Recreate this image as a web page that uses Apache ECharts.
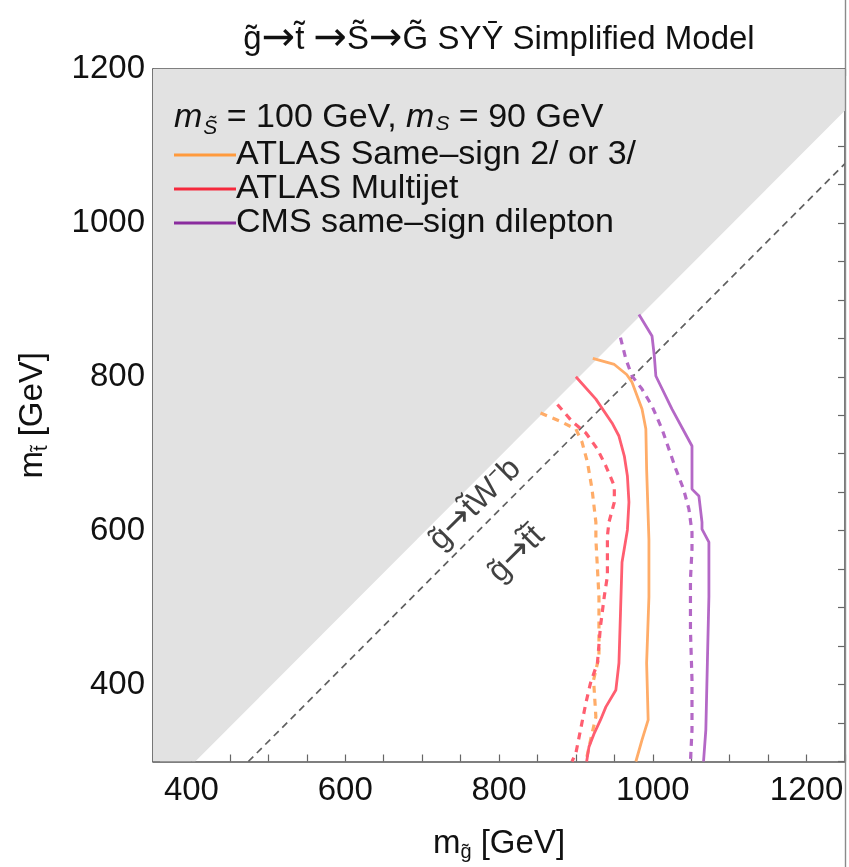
<!DOCTYPE html>
<html>
<head>
<meta charset="utf-8">
<script src="https://cdn.jsdelivr.net/npm/echarts@6/dist/echarts.min.js"></script>
<style>
html, body { margin: 0; padding: 0; background: #fff; }
#chart { width: 849px; height: 867px; }
</style>
</head>
<body>
<div id="chart"></div>
<script>
// Gluino / stop mass plane: exclusion contours (solid = observed, dashed = expected)
const FONT = '"Liberation Sans", Arial, Helvetica, sans-serif';
const ARROW_FONT = '"DejaVu Sans", sans-serif';

const xTickLabels = [400, 600, 800, 1000, 1200];
const yTickLabels = [400, 600, 800, 1000, 1200];

// kinematically forbidden region boundary and the on-shell top threshold
const forbiddenEdge = [[350, 300], [405, 300], [1250, 1146]];
const topThreshold = [[474, 300], [1250, 1077]];

// [m_gluino, m_stop] in GeV
const atlasSSObs = [[922,824],[950,816],[966,803],[973,793],[986,758],[991,732],[992,680],[995,588],[995,514],[992,428],[994,354],[986,328],[978,300]];
const atlasSSExp = [[854,753],[880,742],[900,732],[908,715],[915,689],[921,654],[926,611],[926,589],[930,514],[930,436],[923,406],[926,358],[920,332],[913,300]];
const atlasMJObs = [[900,800],[926,771],[947,740],[956,723],[963,697],[967,671],[969,637],[967,601],[960,559],[958,493],[956,428],[952,393],[939,371],[932,354],[924,337],[917,319],[914,300]];
const atlasMJExp = [[876,764],[895,742],[913,727],[928,706],[939,684],[950,658],[950,637],[943,611],[941,593],[941,541],[937,515],[932,476],[928,428],[919,402],[913,376],[906,341],[900,311],[895,300]];
const cmsSSObs = [[982,881],[999,853],[1002,827],[1004,801],[1025,758],[1051,710],[1051,654],[1060,645],[1064,611],[1064,602],[1073,585],[1073,514],[1071,428],[1069,341],[1066,300]];
const cmsSSExp = [[958,851],[965,823],[973,801],[986,784],[999,762],[1012,732],[1021,706],[1030,680],[1040,654],[1047,628],[1051,598],[1051,576],[1049,536],[1049,471],[1051,406],[1051,341],[1049,300]];

// decay-mode labels placed along the threshold line
const decayLabels = [
  { pos: [769, 634], text: '{t|g\u0303}{a|\u2192}{t|t\u0303W\u207Bb}' },
  { pos: [823, 569], text: '{t|g\u0303}{a|\u2192}{t|t\u0303t\u0304}' }
];

const legendNames = ['ATLAS Same\u2013sign 2/ or 3/', 'ATLAS Multijet', 'CMS same\u2013sign dilepton'];
const legendColors = ['#ff9a3c', '#f5293c', '#8a2c9e'];
const curveColors = ['#ffac68', '#ff5e70', '#b468c6'];

const axisColor = '#555';
const nameRich = {
  m: { fontSize: 33, fontFamily: FONT, color: '#111', lineHeight: 36 },
  s: { fontSize: 20, fontFamily: FONT, color: '#111', lineHeight: 21, padding: [17, 0, 0, 0] }
};

function baseAxis(extra) {
  return Object.assign({
    type: 'value',
    axisLine: { show: true, onZero: false, lineStyle: { color: axisColor, width: 1.6 } },
    axisTick: { show: true, inside: true, length: 7, lineStyle: { color: '#666', width: 1.2 } },
    splitLine: { show: false },
    axisLabel: { show: false }
  }, extra);
}

function contour(name, data, color, dashed) {
  return {
    type: 'line',
    name: name,
    data: data,
    showSymbol: false,
    symbol: 'none',
    smooth: false,
    z: 5,
    lineStyle: dashed
      ? { color: color, width: 3.2, type: [7, 6] }
      : { color: color, width: 2.8 },
    emphasis: { disabled: true }
  };
}

const chart = echarts.init(document.getElementById('chart'), null, { renderer: 'canvas' });

chart.setOption({
  animation: false,
  backgroundColor: '#fff',
  grid: { left: 153, right: 4, top: 69, bottom: 105, containLabel: false },
  xAxis: [
    baseAxis({
      min: 350, max: 1250, interval: 50, position: 'bottom',
      axisLabel: {
        show: true, margin: 13, fontSize: 33, fontFamily: FONT, color: '#111',
        formatter: v => (xTickLabels.includes(v) ? String(v) : '')
      },
      name: '{m|m}{s|g\u0303}{m| [GeV]}',
      nameLocation: 'middle', nameGap: 64,
      nameTextStyle: { rich: nameRich }
    }),
    baseAxis({ min: 350, max: 1250, interval: 50, position: 'top' })
  ],
  yAxis: [
    baseAxis({
      min: 300, max: 1200, interval: 50, position: 'left',
      axisLabel: {
        show: true, margin: 8, fontSize: 33, fontFamily: FONT, color: '#111',
        formatter: v => (yTickLabels.includes(v) ? String(v) : '')
      },
      name: '{m|m}{s|t\u0303}{m| [GeV]}',
      nameLocation: 'middle', nameGap: 102, nameRotate: 90,
      nameTextStyle: { rich: nameRich }
    }),
    baseAxis({ min: 300, max: 1200, interval: 50, position: 'right' })
  ],
  legend: {
    data: legendNames.map((n, i) => ({
      name: n,
      icon: 'rect',
      itemStyle: { color: legendColors[i] }
    })),
    orient: 'vertical',
    left: 174, top: 138,
    padding: 0, itemGap: 0,
    itemWidth: 62, itemHeight: 3,
    selectedMode: false,
    textStyle: { fontSize: 34, fontFamily: FONT, color: '#111', lineHeight: 31, padding: [2, 0, 0, -5] }
  },
  graphic: [
    {
      type: 'text', x: 499, y: 40, z: 10,
      style: {
        text: '{t|g\u0303}{a|\u2192}{t|t\u0303 }{a|\u2192}{t|S\u0303}{a|\u2192}{t|G\u0303 SY\u0232 Simplified Model}',
        align: 'center', verticalAlign: 'middle',
        rich: {
          t: { fontSize: 33, fontFamily: FONT, fill: '#111', lineHeight: 38 },
          a: { fontSize: 40, fontFamily: ARROW_FONT, fill: '#111', lineHeight: 38 }
        }
      }
    },
    {
      type: 'text', x: 174, y: 99, z: 10,
      style: {
        text: '{i|m}{s|S\u0303}{n| = 100 GeV, }{i|m}{t|S}{n| = 90 GeV}',
        align: 'left', verticalAlign: 'top',
        rich: {
          i: { fontSize: 34, fontStyle: 'italic', fontFamily: FONT, fill: '#111', lineHeight: 38 },
          n: { fontSize: 34, fontFamily: FONT, fill: '#111', lineHeight: 38 },
          s: { fontSize: 21, fontStyle: 'italic', fontFamily: FONT, fill: '#111', lineHeight: 22, padding: [20, 0, 0, 1] },
          t: { fontSize: 21, fontStyle: 'italic', fontFamily: FONT, fill: '#111', lineHeight: 22, padding: [13, 0, 0, 1] }
        }
      }
    },
    {
      type: 'line', z: 10,
      shape: { x1: 845.5, y1: 0, x2: 845.5, y2: 867 },
      style: { stroke: '#8a8a8a', lineWidth: 1.4 }
    }
  ],
  series: [
    {
      type: 'line',
      name: 'forbidden',
      data: forbiddenEdge,
      showSymbol: false, symbol: 'none',
      lineStyle: { width: 0 },
      areaStyle: { color: '#e2e2e2', opacity: 1, origin: 'end' },
      z: 1, silent: true
    },
    {
      type: 'line',
      name: 'threshold',
      data: topThreshold,
      showSymbol: false, symbol: 'none',
      lineStyle: { color: '#606060', width: 1.7, type: [7, 5] },
      z: 2, silent: true
    },
    contour(legendNames[0], atlasSSObs, curveColors[0], false),
    contour(legendNames[0] + ' exp', atlasSSExp, curveColors[0], true),
    contour(legendNames[1], atlasMJObs, curveColors[1], false),
    contour(legendNames[1] + ' exp', atlasMJExp, curveColors[1], true),
    contour(legendNames[2], cmsSSObs, curveColors[2], false),
    contour(legendNames[2] + ' exp', cmsSSExp, curveColors[2], true),
    {
      type: 'scatter',
      name: 'decay modes',
      data: decayLabels.map(d => ({ value: d.pos, label: { formatter: d.text } })),
      symbolSize: 0,
      z: 6, silent: true,
      label: {
        show: true, position: 'inside', rotate: 45,
        rich: {
          t: { fontSize: 32, fontFamily: FONT, color: '#111' },
          a: { fontSize: 35, fontFamily: ARROW_FONT, color: '#111' }
        }
      }
    }
  ]
});
</script>
</body>
</html>
